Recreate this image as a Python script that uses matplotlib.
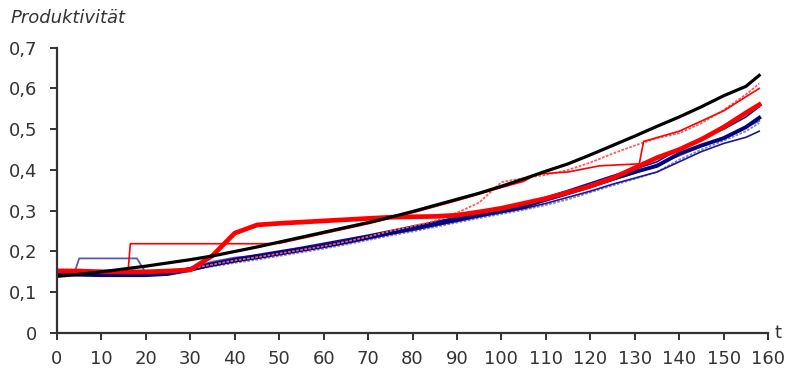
import matplotlib
matplotlib.use("Agg")
import matplotlib.pyplot as plt
from matplotlib.ticker import FuncFormatter

# time grid shared by most series
T = [0, 5, 10, 15, 20, 25, 30, 35, 40, 45, 50, 55, 60, 65, 70, 75, 80,
     85, 90, 95, 100, 105, 110, 115, 120, 125, 130, 135, 140, 145, 150, 155, 158]

# smooth reference curve
black = [0.139, 0.144, 0.150, 0.157, 0.164, 0.172, 0.180, 0.189, 0.200, 0.211,
         0.223, 0.235, 0.247, 0.259, 0.271, 0.284, 0.298, 0.313, 0.328, 0.343,
         0.360, 0.378, 0.397, 0.415, 0.437, 0.460, 0.483, 0.507, 0.530, 0.555,
         0.582, 0.605, 0.632]

# thick red run with the early jump
red_thick = [0.152, 0.152, 0.150, 0.150, 0.150, 0.152, 0.155, 0.190, 0.245, 0.265,
             0.269, 0.272, 0.275, 0.278, 0.281, 0.284, 0.285, 0.286, 0.289, 0.297,
             0.306, 0.318, 0.330, 0.345, 0.360, 0.380, 0.405, 0.430, 0.450, 0.475,
             0.505, 0.540, 0.560]

# light red run that leaves the bundle after t=90
red_light = [0.156, 0.155, 0.153, 0.152, 0.152, 0.153, 0.158, 0.168, 0.178, 0.186,
             0.195, 0.204, 0.213, 0.224, 0.236, 0.250, 0.262, 0.275, 0.295, 0.320,
             0.370, 0.380, 0.388, 0.400, 0.418, 0.440, 0.460, 0.478, 0.490, 0.515,
             0.547, 0.585, 0.612]

# thin red step run (own time points)
red_thin_t = [0, 16, 16.5, 46, 50, 60, 70, 80, 90, 100, 105, 108, 115, 122, 131, 132, 140, 150, 158]
red_thin = [0.152, 0.152, 0.219, 0.219, 0.220, 0.244, 0.268, 0.295, 0.325, 0.357,
            0.372, 0.390, 0.395, 0.410, 0.415, 0.470, 0.495, 0.545, 0.600]

# blue runs
navy_a = [0.145, 0.143, 0.142, 0.142, 0.142, 0.145, 0.155, 0.168, 0.178, 0.187,
          0.196, 0.205, 0.214, 0.224, 0.235, 0.246, 0.257, 0.268, 0.278, 0.290,
          0.300, 0.310, 0.327, 0.343, 0.360, 0.378, 0.395, 0.410, 0.440, 0.460,
          0.478, 0.505, 0.528]
navy_b = [0.148, 0.147, 0.146, 0.146, 0.147, 0.150, 0.160, 0.172, 0.183, 0.192,
          0.201, 0.210, 0.220, 0.230, 0.240, 0.251, 0.262, 0.273, 0.284, 0.295,
          0.306, 0.318, 0.333, 0.350, 0.368, 0.386, 0.402, 0.420, 0.452, 0.478,
          0.500, 0.530, 0.555]
navy_c = [0.146, 0.145, 0.144, 0.144, 0.145, 0.148, 0.156, 0.165, 0.175, 0.183,
          0.192, 0.201, 0.210, 0.220, 0.231, 0.242, 0.252, 0.263, 0.274, 0.285,
          0.295, 0.305, 0.318, 0.333, 0.348, 0.365, 0.380, 0.395, 0.420, 0.445,
          0.465, 0.480, 0.495]
blue_light = [0.150, 0.149, 0.148, 0.148, 0.149, 0.150, 0.155, 0.163, 0.172, 0.180,
              0.189, 0.198, 0.207, 0.217, 0.228, 0.239, 0.249, 0.260, 0.271, 0.282,
              0.292, 0.302, 0.314, 0.328, 0.345, 0.362, 0.378, 0.395, 0.425, 0.450,
              0.472, 0.495, 0.515]

blue_step_t = [0, 4, 5, 18, 20, 25, 30, 35, 40, 45, 50, 60, 70, 80, 90, 100,
               110, 120, 130, 140, 150, 158]
blue_step = [0.150, 0.150, 0.183, 0.183, 0.147, 0.148, 0.160, 0.175, 0.185, 0.190,
             0.198, 0.216, 0.237, 0.258, 0.280, 0.302, 0.325, 0.358, 0.392, 0.435,
             0.480, 0.520]

y_ticks = [0, 0.1, 0.2, 0.3, 0.4, 0.5, 0.6, 0.7]
x_ticks = list(range(0, 161, 10))

TXT = "#333333"
FS = 13

fig = plt.figure(figsize=(7.87, 3.74), dpi=100)
ax = fig.add_axes([0.0724, 0.1096, 0.9036, 0.763])

ax.plot(blue_step_t, blue_step, color="#5a5ab4", lw=1.3)
ax.plot(T, blue_light, color="#7c7cdc", lw=1.3, ls=(0, (1.5, 0.8)))
ax.plot(T, navy_c, color="#1a1a8c", lw=1.2)
ax.plot(T, navy_b, color="#10108a", lw=1.2)
ax.plot(T, navy_a, color="#000080", lw=2.8)
ax.plot(T, red_light, color="#ff5a5a", lw=1.3, ls=(0, (1.5, 0.8)))
ax.plot(red_thin_t, red_thin, color="#ff0000", lw=1.2)
ax.plot(T, red_thick, color="#ff0000", lw=3.4)
ax.plot(T, black, color="#000000", lw=2.3)

ax.set_xlim(0, 160)
ax.set_ylim(0, 0.7)
ax.set_xticks(x_ticks)
ax.set_yticks(y_ticks)
ax.yaxis.set_major_formatter(FuncFormatter(lambda v, p: ("%g" % round(v, 1)).replace(".", ",")))

for side in ("top", "right"):
    ax.spines[side].set_visible(False)
for side in ("left", "bottom"):
    ax.spines[side].set_color("#333333")
    ax.spines[side].set_linewidth(1.6)
ax.tick_params(direction="out", length=5, width=1.4, color="#333333",
               labelsize=FS, labelcolor=TXT)
ax.tick_params(axis="y", pad=9)
ax.tick_params(axis="x", pad=7)

fig.text(0.013, 0.952, "Produktivität", fontsize=FS, style="italic",
         color=TXT, ha="left", va="center")
fig.text(0.984, 0.11, "t", fontsize=FS, color=TXT, ha="left", va="center")

fig.savefig("out.png", dpi=100)
